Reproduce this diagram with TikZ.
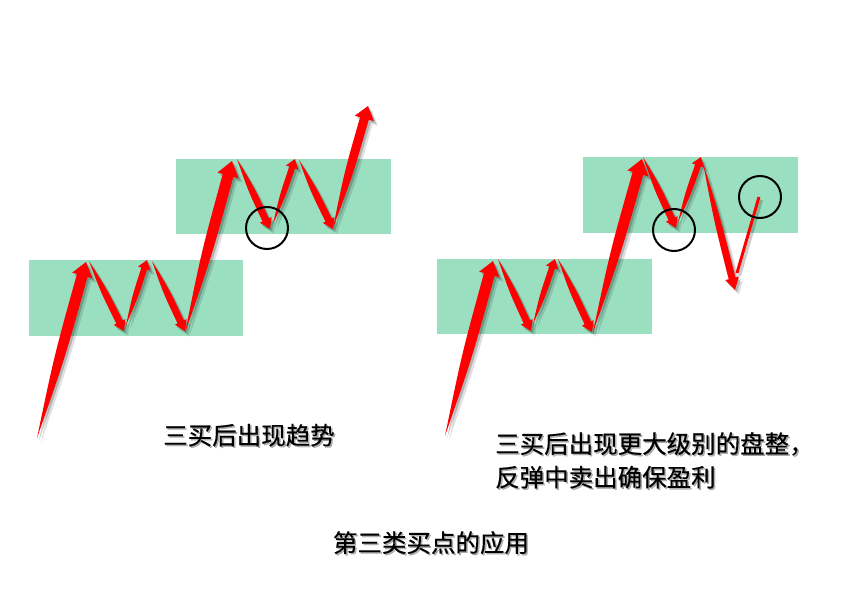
\documentclass[tikz,border=0pt]{standalone}
\usepackage{fontspec}
\newfontfamily\cjk[FakeBold=0.4]{Noto Sans CJK SC}
\usetikzlibrary{calc}
\definecolor{boxgreen}{RGB}{155,223,193}
\definecolor{arrred}{RGB}{255,0,0}
\tikzset{
  zonebox/.style={fill=boxgreen, draw=none},
  ringmark/.style={draw=black, line width=2pt},
  arrowfill/.style={fill=arrred, draw=none},
  shadowfill/.style={fill=black, draw=none},
  captionstyle/.style={font=\cjk\fontsize{24.5}{28}\selectfont, inner sep=0pt},
  captionshadow/.style={captionstyle, text=black, opacity=0.3},
}
% tail, tip, half shaft width, half head width, head length
\newcommand\wedgearrowshape[5]{%
  ($(#2)!#5!(#1)$) coordinate (wH)
  ($(#1)!0.5!(wH)$) coordinate (wM)
  (#1) .. controls ($(wM)!#3!90:(wH)$) .. ($(wH)!#3!90:(#2)$)
  -- ($(wH)!#4!90:(#2)$) -- (#2)
  -- ($(wH)!#4!-90:(#2)$) -- ($(wH)!#3!-90:(#2)$)
  .. controls ($(wM)!#3!-90:(wH)$) .. (#1) -- cycle}
\newcommand\wedgearrow[5]{%
  \begin{scope}[transform canvas={shift={(2,2.5)}}]
    \fill[shadowfill, opacity=0.2] \wedgearrowshape{#1}{#2}{#3}{#4}{#5};
  \end{scope}
  \begin{scope}[transform canvas={shift={(4,4.5)}}]
    \fill[shadowfill, opacity=0.12] \wedgearrowshape{#1}{#2}{#3}{#4}{#5};
  \end{scope}
  \fill[arrowfill] \wedgearrowshape{#1}{#2}{#3}{#4}{#5};
}
\newcommand\captext[3]{% name, position, text
  \node[captionshadow, anchor=base] at ($(#2)+(1.5,1.5)$) {#3};
  \node[captionstyle, anchor=base] (#1) at (#2) {#3};
}
\begin{document}
\begin{tikzpicture}[x=1pt,y=-1pt]
\useasboundingbox[fill=white] (0,0) rectangle (866,609);

% zones
\fill[zonebox] (29,260) rectangle (243,336);
\fill[zonebox] (176,159) rectangle (391,234);
\fill[zonebox] (437,259) rectangle (652,334);
\fill[zonebox] (583,157) rectangle (798,233);

% left panel points
\coordinate (La0) at (37,438);
\coordinate (La1) at (86,262);
\coordinate (Lb0) at (89,261);
\coordinate (Lb1) at (124,331);
\coordinate (Lc0) at (126,325);
\coordinate (Lc1) at (147,260);
\coordinate (Ld0) at (152,261);
\coordinate (Ld1) at (185,331);
\coordinate (Le0) at (185,333);
\coordinate (Le1) at (232,161);
\coordinate (Lf0) at (237,159);
\coordinate (Lf1) at (270,229);
\coordinate (Lg0) at (273,224);
\coordinate (Lg1) at (295,159);
\coordinate (Lh0) at (299,160);
\coordinate (Lh1) at (333,229);
\coordinate (Li0) at (333,228);
\coordinate (Li1) at (368,106);

\wedgearrow{La0}{La1}{5.5pt}{10.5pt}{14pt}
\wedgearrow{Lb0}{Lb1}{3.5pt}{6.5pt}{10pt}
\wedgearrow{Lc0}{Lc1}{3pt}{6.5pt}{9pt}
\wedgearrow{Ld0}{Ld1}{3.5pt}{6.5pt}{10pt}
\wedgearrow{Le0}{Le1}{5.5pt}{11pt}{15pt}
\wedgearrow{Lf0}{Lf1}{3.5pt}{6.5pt}{10pt}
\wedgearrow{Lg0}{Lg1}{3pt}{6.5pt}{9pt}
\wedgearrow{Lh0}{Lh1}{3.5pt}{6.5pt}{10pt}
\wedgearrow{Li0}{Li1}{4.5pt}{10pt}{13pt}

% right panel points
\coordinate (Ra0) at (445,436);
\coordinate (Ra1) at (493,261);
\coordinate (Rb0) at (498,259);
\coordinate (Rb1) at (531,331);
\coordinate (Rc0) at (533,324);
\coordinate (Rc1) at (555,259);
\coordinate (Rd0) at (558,259);
\coordinate (Rd1) at (592,332);
\coordinate (Re0) at (593,332);
\coordinate (Re1) at (642,159);
\coordinate (Rf0) at (643,157);
\coordinate (Rf1) at (676,228);
\coordinate (Rg0) at (678,222);
\coordinate (Rg1) at (701,157);
\coordinate (Rh0) at (703,163);
\coordinate (Rh1) at (735,290);
\coordinate (Ri0) at (737,273);
\coordinate (Ri1) at (759,197);

\wedgearrow{Ra0}{Ra1}{5.5pt}{10.5pt}{14pt}
\wedgearrow{Rb0}{Rb1}{3.5pt}{6.5pt}{10pt}
\wedgearrow{Rc0}{Rc1}{3pt}{6.5pt}{9pt}
\wedgearrow{Rd0}{Rd1}{3.5pt}{6.5pt}{10pt}
\wedgearrow{Re0}{Re1}{5.5pt}{11pt}{15pt}
\wedgearrow{Rf0}{Rf1}{3.5pt}{6.5pt}{10pt}
\wedgearrow{Rg0}{Rg1}{3pt}{6.5pt}{9pt}
\wedgearrow{Rh0}{Rh1}{3.5pt}{7pt}{12pt}
\begin{scope}[transform canvas={shift={(2.5,3)}}]
  \draw[black, opacity=0.2, line width=3pt] (Ri0) -- (Ri1);
\end{scope}
\draw[arrred, line width=3pt] (Ri0) -- (Ri1);

% circles
\node[ringmark, circle, minimum size=42pt, inner sep=0pt] (c1) at (267,228) {};
\node[ringmark, circle, minimum size=42pt, inner sep=0pt] (c2) at (674,230) {};
\node[ringmark, circle, minimum size=42pt, inner sep=0pt] (c3) at (760,197) {};

% captions
\coordinate (p1) at (249,444.5);
\coordinate (p4) at (431,552);
\captext{t1}{p1}{三买后出现趋势}
\captext{t4}{p4}{第三类买点的应用}
\node[captionshadow, anchor=base west] at (496.5,454.5) {三买后出现更大级别的盘整，};
\node[captionstyle, anchor=base west] (t2) at (495,453) {三买后出现更大级别的盘整，};
\node[captionshadow, anchor=base west] at (496.5,488) {反弹中卖出确保盈利};
\node[captionstyle, anchor=base west] (t3) at (495,486.5) {反弹中卖出确保盈利};
\end{tikzpicture}
\end{document}
